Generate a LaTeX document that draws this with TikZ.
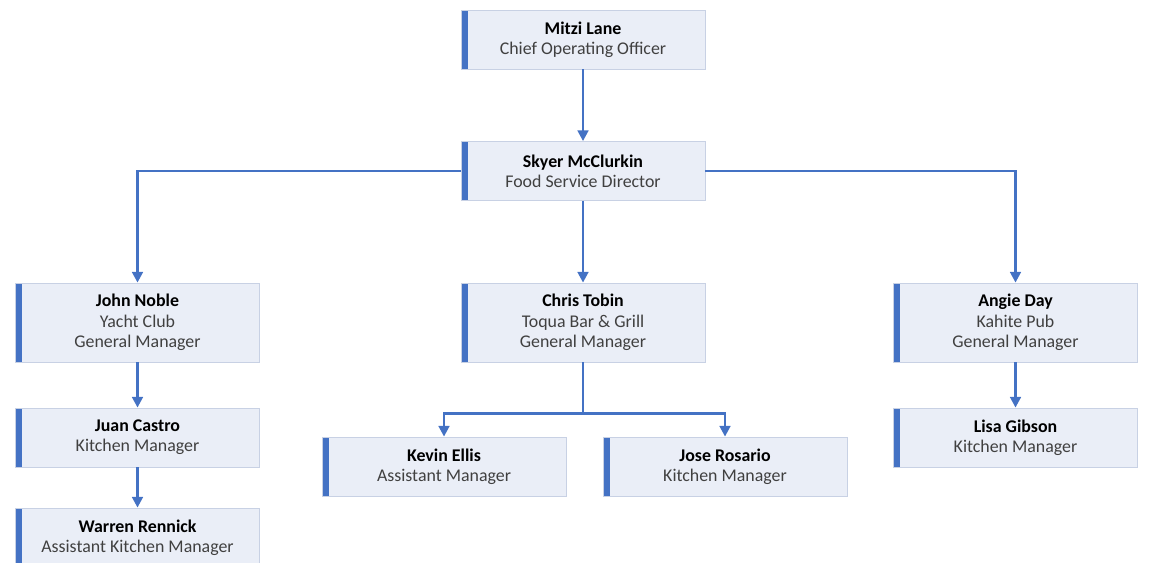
\documentclass[tikz,border=0pt]{standalone}
\usepackage{fontspec}
\setmainfont{Carlito}
\usetikzlibrary{arrows.meta,positioning,calc}
\definecolor{orgblue}{RGB}{68,114,196}
\definecolor{orgfill}{RGB}{234,238,247}
\definecolor{orgedge}{RGB}{200,209,228}
\definecolor{orgtext}{RGB}{64,64,64}
\newcommand{\who}[2]{\textbf{\color{black}#1}\\#2}
\tikzset{
  person/.style={draw=orgedge, fill=orgfill, line width=0.6pt,
                 minimum width=183pt, minimum height=44.25pt, align=center,
                 inner sep=0pt, text=orgtext, font=\fontsize{13.4}{15.2}\selectfont,
                 path picture={\fill[orgblue] (path picture bounding box.south west)
                   rectangle ([xshift=5pt]path picture bounding box.north west);}},
  tall/.style={minimum height=59.25pt},
  rep/.style={-{Triangle[length=8pt,width=8pt]}, orgblue, line width=1.9pt},
}

\begin{document}
\begin{tikzpicture}[x=0.75pt, y=-0.75pt]
    \useasboundingbox (0,0) rectangle (1152,563);
    % top of the chain
    \node[person] (coo) at (583,39.5) {\who{Mitzi Lane}{Chief Operating Officer}};
    \node[person] (fsd) at (583,171) {\who{Skyer McClurkin}{Food Service Director}};
    % general managers
    \node[person, tall] (gmyacht) at (137.5,322.5) {\who{John Noble}{Yacht Club\\General Manager}};
    \node[person, tall] (gmtoqua) at (583,322.5) {\who{Chris Tobin}{Toqua Bar \& Grill\\General Manager}};
    \node[person, tall] (gmpub) at (1015.5,322.5) {\who{Angie Day}{Kahite Pub\\General Manager}};
    % kitchen staff
    \node[person] (kmyacht) at (137.5,437.5) {\who{Juan Castro}{Kitchen Manager}};
    \node[person] (akmyacht) at (137.5,537.5) {\who{Warren Rennick}{Assistant Kitchen Manager}};
    \node[person] (amtoqua) at (444,466.5) {\who{Kevin Ellis}{Assistant Manager}};
    \node[person] (kmtoqua) at (725,466.5) {\who{Jose Rosario}{Kitchen Manager}};
    \node[person] (kmpub) at (1015.5,437.5) {\who{Lisa Gibson}{Kitchen Manager}};
    \coordinate (split) at ($(gmtoqua.south)+(0,51)$);

    \draw[rep] (coo) -- (fsd);
    \draw[rep] (fsd.west) -| (gmyacht.north);
    \draw[rep] (fsd) -- (gmtoqua);
    \draw[rep] (fsd.east) -| (gmpub.north);
    \draw[rep] (gmyacht) -- (kmyacht);
    \draw[rep] (kmyacht) -- (akmyacht);
    \draw[rep] (gmpub) -- (kmpub);
    \draw[rep] (gmtoqua.south) -- (split) -| (amtoqua.north);
    \draw[rep] (split) -| (kmtoqua.north);
  \end{tikzpicture}
\end{document}
